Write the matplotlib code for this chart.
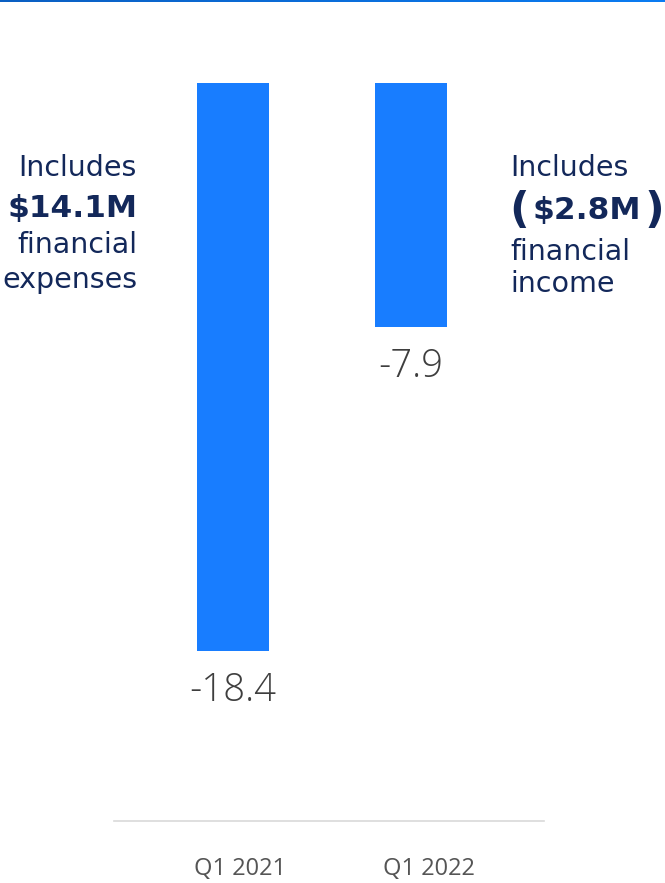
import matplotlib
matplotlib.use("Agg")
import matplotlib.pyplot as plt
import matplotlib.transforms as mtrans
from matplotlib.colors import LinearSegmentedColormap
import numpy as np

categories = ["Q1 2021", "Q1 2022"]
values = [-18.4, -7.9]
value_labels = ["-18.4", "-7.9"]
left_note = ["Includes", "$14.1M", "financial", "expenses"]
right_note = ["Includes", "($2.8M)", "financial", "income"]

W, H = 665, 883
fig = plt.figure(figsize=(W / 100, H / 100), dpi=100)
fig.patch.set_facecolor("white")

def fx(x):
    return x / W

def fy(y):
    return 1 - y / H

BAR = "#187dff"
NAVY = "#13285a"
GRAY = "#3e3e3e"
FONT = ["Open Sans", "DejaVu Sans"]
NOTE = ["DejaVu Sans"]

# axes: x from 114 to 544 px, y from 83 (zero) to 821 (baseline)
ax = fig.add_axes([fx(114), fy(821), (544 - 114) / W, (821 - 83) / H])
xpos = np.arange(len(categories))
ax.bar(xpos, values, width=0.4045, color=BAR)
ax.set_xlim(-0.6685, 1.747)
ax.set_ylim(-(821 - 83) / 30.87, 0)
for s in ["top", "left", "right"]:
    ax.spines[s].set_visible(False)
ax.spines["bottom"].set_color("#d9d9d9")
ax.spines["bottom"].set_linewidth(1.2)
ax.set_yticks([])
ax.set_xticks(xpos)
ax.set_xticklabels(categories, fontsize=17, color="#555555", family=FONT)
ax.tick_params(axis="x", length=0, pad=26)
for lab, dx in zip(ax.get_xticklabels(), [7.5, 17.5]):
    lab.set_transform(lab.get_transform() + mtrans.ScaledTranslation(dx / 100, 0, fig.dpi_scale_trans))

for x, v, lab in zip(xpos, values, value_labels):
    ax.annotate(lab, (x, v), xytext=(0, -15), textcoords="offset points",
                ha="center", va="top", fontsize=27.5, color=GRAY,
                family=FONT, fontweight=300)

# top gradient line
grad = np.linspace(0, 1, 256).reshape(1, -1)
cm = LinearSegmentedColormap.from_list("g", ["#0a5fc2", "#0a7cf2"])
lax = fig.add_axes([0, fy(2.5), 1, 2.5 / H])
lax.imshow(grad, aspect="auto", cmap=cm)
lax.axis("off")

# left note (right aligned at x=137)
ly = [168, 208, 245, 280]
for i, (t, y) in enumerate(zip(left_note, ly)):
    fig.text(fx(137), fy(y), t, ha="right", va="center",
             fontsize=22.5 if i == 1 else 20.5, fontweight="bold" if i == 1 else "normal",
             color=NAVY, family=NOTE)

ry = [168, 211, 252, 284]
for i, (t, y) in enumerate(zip(right_note, ry)):
    if i == 1:
        fig.text(fx(509), fy(y), "(", ha="left", va="center", fontsize=31,
                 fontweight="bold", color=NAVY, family=NOTE)
        fig.text(fx(587), fy(y), t[1:-1], ha="center", va="center", fontsize=22.5,
                 fontweight="bold", color=NAVY, family=NOTE)
        fig.text(fx(664), fy(y), ")", ha="right", va="center", fontsize=31,
                 fontweight="bold", color=NAVY, family=NOTE)
    else:
        fig.text(fx(510), fy(y), t, ha="left", va="center", fontsize=20.5,
                 color=NAVY, family=NOTE)

fig.savefig("out.png", dpi=100)
